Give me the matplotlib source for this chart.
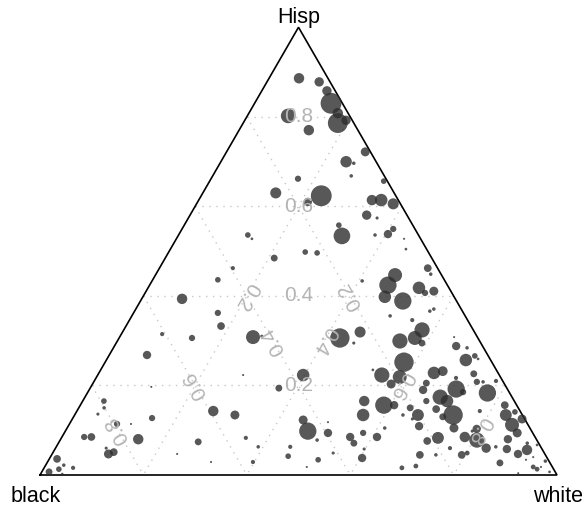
import numpy as np
import matplotlib
matplotlib.use("Agg")
import matplotlib.pyplot as plt

plt.rcParams['font.family'] = ['Liberation Sans', 'DejaVu Sans']

# ---- data: composition (Hisp, white, black) and point size ----
hisp = [
    .887, .878, .858, .831, .809, .786, .793, .802, .771, .721,
    .699, .697, .668, .657, .661, .630, .623, .610, .614, .614,
    .605, .581, .574, .558, .534, .536, .538, .549, .536, .527,
    .498, .496, .485, .527, .505, .462, .436, .462, .449, .447,
    .424, .398, .389, .418, .407, .411, .433, .366, .371, .355,
    .346, .324, .306, .295, .299, .319, .295, .306, .288, .284,
    .308, .257, .266, .259, .252, .223, .219, .203, .235, .228,
    .232, .205, .190, .217, .226, .208, .208, .192, .185, .183,
    .174, .165, .165, .165, .156, .156, .150, .134, .134, .125,
    .147, .134, .130, .105, .143, .134, .109, .105, .094, .085,
    .071, .085, .083, .076, .085, .078, .103, .098, .060, .060,
    .058, .045, .045, .045, .049, .038, .016, .020, .210, .156,
    .134, .141, .125, .112, .094, .080, .063, .058, .047, .056,
    .071, .067, .040, .034, .031, .018, .013, .018, .027, .004,
    .007, .393, .362, .333, .315, .306, .308, .310, .268, .197,
    .223, .223, .194, .143, .134, .127, .074, .047, .083, .063,
    .029, .029, .063, .042, .123, .098, .094, .118, .078, .049,
    .034, .018, .165, .150, .136, .114, .114, .080, .085, .085,
    .047, .051, .060, .036, .022, .016, .007, .013, .002,
]
white = [
    .058, .101, .126, .148, .172, .183, .196, .079, .135, .268,
    .242, .259, .268, .337, .168, .141, .232, .213, .335, .353,
    .380, .342, .365, .299, .317, .380, .404, .408, .134, .146,
    .264, .288, .211, .440, .456, .142, .126, .519, .532, .464,
    .461, .468, .508, .524, .542, .557, .406, .571, .577, .499,
    .547, .577, .572, .592, .546, .459, .460, .427, .661, .684,
    .647, .696, .708, .717, .578, .549, .587, .577, .527, .648,
    .663, .644, .646, .697, .726, .741, .753, .709, .725, .773,
    .687, .704, .664, .544, .587, .607, .641, .664, .635, .657,
    .692, .732, .714, .749, .780, .558, .678, .615, .578, .558,
    .571, .610, .729, .711, .780, .806, .794, .787, .833, .763,
    .598, .713, .744, .794, .801, .604, .692, .717, .777, .821,
    .834, .849, .869, .857, .876, .865, .851, .874, .902, .914,
    .906, .927, .934, .923, .961, .945, .954, .960, .877, .923,
    .983, .078, .163, .184, .079, .141, .258, .274, .073, .117,
    .281, .397, .365, .264, .310, .153, .269, .242, .357, .391,
    .397, .316, .453, .459, .448, .469, .510, .498, .497, .542,
    .521, .507, .041, .049, .044, .092, .119, .150, .043, .057,
    .109, .117, .098, .015, .035, .056, .014, .030, .042,
]
black = [
    .056, .021, .016, .022, .020, .031, .012, .119, .095, .010,
    .058, .045, .064, .007, .170, .229, .144, .177, .051, .033,
    .014, .078, .061, .143, .149, .084, .058, .042, .330, .326,
    .238, .216, .305, .032, .040, .396, .438, .019, .020, .090,
    .115, .134, .104, .058, .052, .033, .160, .063, .053, .145,
    .107, .099, .122, .114, .154, .221, .246, .267, .051, .032,
    .045, .048, .026, .023, .170, .227, .195, .219, .239, .124,
    .105, .150, .164, .087, .048, .051, .039, .099, .089, .043,
    .139, .130, .170, .290, .257, .237, .209, .202, .231, .217,
    .160, .134, .156, .147, .078, .308, .212, .281, .328, .358,
    .357, .306, .189, .213, .136, .116, .104, .115, .107, .177,
    .344, .243, .212, .162, .149, .358, .292, .263, .013, .023,
    .032, .011, .005, .031, .030, .055, .087, .068, .052, .030,
    .022, .005, .026, .043, .007, .037, .032, .022, .097, .073,
    .011, .528, .475, .484, .607, .553, .434, .416, .659, .687,
    .495, .379, .441, .594, .556, .719, .657, .712, .561, .547,
    .573, .654, .485, .499, .430, .433, .396, .384, .425, .408,
    .445, .475, .793, .801, .820, .794, .767, .770, .873, .859,
    .845, .831, .842, .949, .943, .928, .979, .957, .956,
]
size = [
    5, 4.5, 4.5, 10, 5, 9.5, 4.5, 7, 5, 4.3,
    5.5, 1.7, 1.7, 2.7, 3, 5.3, 10, 4, 5, 6,
    5.3, 4.5, 1.5, 2.7, 8, 1.7, 4, 3, 2.7, 1.3,
    2.7, 2.7, 3.3, 1, 1.3, 2, 2.7, 3.7, 1.7, 6.7,
    8.3, 6, 8.3, 6, 3, 4.3, 1.7, 1.7, 1.7, 1.7,
    2, 7.3, 6.7, 3.3, 7.3, 5.3, 1.5, 9.3, 4, 1.7,
    1, 6, 2.7, 1.3, 9.3, 7.3, 6.7, 4.3, 1.3, 6,
    4.7, 3.3, 4, 2, 3.3, 3, 1.7, 8.3, 3, 8.3,
    7.3, 6, 3, 5, 8.3, 4, 3.3, 5.7, 1.7, 1.5,
    3.7, 9.3, 3.3, 4.3, 2, 6, 4, 1.7, 3, 4,
    3.3, 4, 5.7, 3.7, 5, 7.3, 4, 1.5, 4.5, 2,
    1.5, 3.7, 1.7, 3.7, 2.3, 4, 2.3, 2.3, 2, 3.7,
    5.7, 2.7, 4.3, 6.7, 4.3, 4, 1.7, 4, 4, 5,
    1.7, 1.3, 1, 1, 1.7, 2.3, 2.3, 1, 3.3, 1,
    1.3, 5, 3, 3.7, 2, 3, 6.7, 1.5, 4, 1,
    1, 6, 3.3, 5, 4.3, 3, 3.3, 1, 2, 1.7,
    2, 1, 2, 2.7, 4.3, 8.3, 4, 1, 1.7, 1.5,
    2.7, 1, 2.7, 1.7, 1.5, 3, 1, 5, 3, 3.7,
    4.3, 3.7, 1.5, 3.7, 1.7, 2, 3.3, 2.7, 1.3,
]
grid_values = [0.2, 0.4, 0.6, 0.8]
grid_labels = ["0.2", "0.4", "0.6", "0.8"]
corner_labels = ["black", "white", "Hisp"]

# ---- ternary -> cartesian ----
S3 = np.sqrt(3) / 2


def tern(h, w, b):
    h = np.asarray(h, float); w = np.asarray(w, float); b = np.asarray(b, float)
    t = h + w + b
    h, w = h / t, w / t
    return w + h / 2, h * S3


fig = plt.figure(figsize=(5.88, 5.08), dpi=100)
ax = fig.add_axes([0, 0, 1, 1])
ax.set_xlim(-40 / 517, 548 / 517)
ax.set_ylim(-33 / 517, 475 / 517)
ax.axis('off')

gcol = '#c8c8c8'
for v in grid_values:
    x, y = tern([v, v], [0, 1 - v], [1 - v, 0])
    ax.plot(x, y, ls=(0, (1, 4)), color=gcol, lw=1.0, zorder=1)
    x, y = tern([1 - v, 0], [0, 1 - v], [v, v])
    ax.plot(x, y, ls=(0, (1, 4)), color=gcol, lw=1.0, zorder=1)
    x, y = tern([1 - v, 0], [v, v], [0, 1 - v])
    ax.plot(x, y, ls=(0, (1, 4)), color=gcol, lw=1.0, zorder=1)

# triangle
x, y = tern([0, 0, 1, 0], [0, 1, 0, 0], [1, 0, 0, 1])
ax.plot(x, y, color='black', lw=1.2, zorder=2, solid_joinstyle='miter')

# points
px, py = tern(hisp, white, black)
s = (2 * np.asarray(size) * 0.75) ** 2
ax.scatter(px, py, s=s, color='#2e2e2e', alpha=0.8, linewidths=0, zorder=3)

# grid labels
lcol = '#b4b4b4'
fs = 15
for v, lab in zip(grid_values, grid_labels):
    r = (1 - v) / 2
    x, y = tern(v, r, r)
    ax.text(x, y, lab, color=lcol, fontsize=fs, ha='center', va='center', zorder=4)
    x, y = tern(r, r, v)
    ax.text(x, y, lab, color=lcol, fontsize=fs, ha='center', va='center',
            rotation=120, rotation_mode='anchor', zorder=4)
    x, y = tern(r, v, r)
    ax.text(x, y, lab, color=lcol, fontsize=fs, ha='center', va='center',
            rotation=240, rotation_mode='anchor', zorder=4)

# corner labels
ax.text(-4 / 517, -27 / 517, corner_labels[0], fontsize=15.5, ha='center', va='baseline')
ax.text(518 / 517, -27 / 517, corner_labels[1], fontsize=15.5, ha='center', va='baseline')
ax.text(259 / 517, 452 / 517, corner_labels[2], fontsize=15.5, ha='center', va='baseline')

fig.savefig('out.png', dpi=100)
